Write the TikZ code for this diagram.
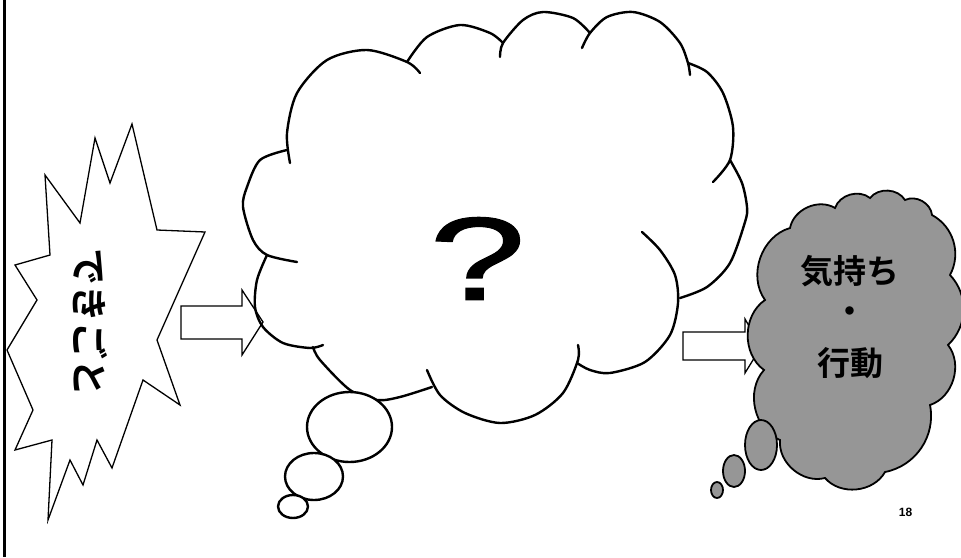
\documentclass[tikz,border=0pt]{standalone}
\usepackage{fontspec}
\setmainfont{Liberation Sans}
\newfontfamily\qfont[FakeBold=1]{Liberation Sans}
\newfontfamily\jp[BoldFont={Noto Sans CJK JP Bold}]{Noto Sans CJK JP}
\begin{document}
\begin{tikzpicture}[x=1pt,y=-1pt,
  cloudline/.style={line width=2.4pt,line cap=round,line join=round},
  thin/.style={line width=1.3pt,line join=miter},
  graycloud/.style={line width=1.8pt,fill={rgb,255:red,150;green,150;blue,150}},
  jptext/.style={font=\jp\bfseries,inner sep=0pt}]
\useasboundingbox (0,0) rectangle (961,557);
\fill[white] (0,0) rectangle (961,557);
% left frame line
\draw[line width=3pt] (4.5,0) -- (4.5,557);
% explosion
\draw[thin,fill=white] (45,175) -- (80,223) -- (95,138) -- (110,183) -- (132,124) -- (157,230)
  -- (205,232) -- (157,340) -- (180,405) -- (143,380) -- (112,468) -- (97,440) -- (83,485)
  -- (70,460) -- (48,520) -- (52,440) -- (15,450) -- (33,410) -- (7,350) -- (37,300)
  -- (15,265) -- (50,255) -- cycle;
\node[jptext,font=\jp\bfseries\fontsize{37}{37}\selectfont,rotate=-90] (event) at (90,322) {できごと};
% left arrow
\draw[thin,fill=white] (181,306) -- (242,306) -- (242,290) -- (263,322) -- (242,355) -- (242,339) -- (181,339) -- cycle;
% big cloud
\draw[cloudline] plot[smooth] coordinates {(287,150) (260,160) (247,187) (243,207) (253,240) (267,255) (297,262)};
\draw[cloudline] plot[smooth] coordinates {(290,163) (287,133) (297,93) (327,60) (367,50) (407,62) (420,73)};
\draw[cloudline] plot[smooth] coordinates {(407,62) (427,37) (460,25) (490,33) (503,43)};
\draw[cloudline] plot[smooth] coordinates {(500,57) (503,43) (523,20) (543,12) (573,18) (590,33)};
\draw[cloudline] plot[smooth] coordinates {(582,48) (590,33) (607,17) (633,12) (660,22) (680,43) (688,63) (690,75)};
\draw[cloudline] plot[smooth] coordinates {(688,63) (707,72) (723,93) (733,127) (730,160) (713,182)};
\draw[cloudline] plot[smooth] coordinates {(730,160) (742,183) (747,207) (745,222) (730,263) (707,287) (680,298)};
\draw[cloudline] plot[smooth] coordinates {(642,232) (660,250) (675,275) (678,303) (670,335) (645,362) (610,373) (590,370) (577,363)};
\draw[cloudline] plot[smooth] coordinates {(578,345) (578,360) (563,393) (535,415) (500,423) (465,413) (440,395) (427,370)};
\draw[cloudline] plot[smooth] coordinates {(313,347) (320,360) (350,390) (377,400) (400,397) (432,387)};
\draw[cloudline] plot[smooth] coordinates {(267,255) (257,280) (255,307) (263,327) (283,343) (310,348) (323,345)};
% big cloud bubbles
\draw[cloudline,fill=white] (349.5,427) ellipse [x radius=42.5,y radius=35];
\draw[cloudline,fill=white] (314,476.5) ellipse [x radius=29,y radius=23.5];
\draw[cloudline,fill=white] (293,506.5) ellipse [x radius=15,y radius=11.5];
\node[font=\qfont\fontsize{118}{118}\selectfont,inner sep=0pt,xscale=1.47] (q) at (477.5,258.5) {?};
% right arrow
\draw[thin,fill=white] (683,332) -- (745,332) -- (745,319) -- (761,347) -- (745,373) -- (745,360) -- (683,360) -- cycle;
% right cloud
\draw[graycloud] (765,300) to[bend left=55] (790,228) to[bend left=55] (835,208) to[bend left=55] (870,198)
  to[bend left=55] (905,200) to[bend left=55] (932,215) to[bend left=45] (950,275) to[bend left=45] (948,345) to[bend left=55] (930,405)
  to[bend left=45] (885,472) to[bend left=55] (825,478) to[bend left=55] (780,440) to[bend left=55] (764,370)
  to[bend left=55] cycle;
\draw[graycloud] (761,445) ellipse [x radius=16,y radius=25];
\draw[graycloud] (734,471) ellipse [x radius=11,y radius=16];
\draw[graycloud] (717,490) ellipse [x radius=6,y radius=8];
\node[jptext,font=\jp\bfseries\fontsize{33}{33}\selectfont] (feel) at (850,271) {気持ち};
\node[jptext,font=\jp\bfseries\fontsize{33}{33}\selectfont] (dot) at (850,315) {・};
\node[jptext,font=\jp\bfseries\fontsize{33}{33}\selectfont] (act) at (850,363) {行動};
\node[font=\bfseries\fontsize{12}{12}\selectfont,inner sep=0pt] (page) at (905.5,512) {18};
\end{tikzpicture}
\end{document}
